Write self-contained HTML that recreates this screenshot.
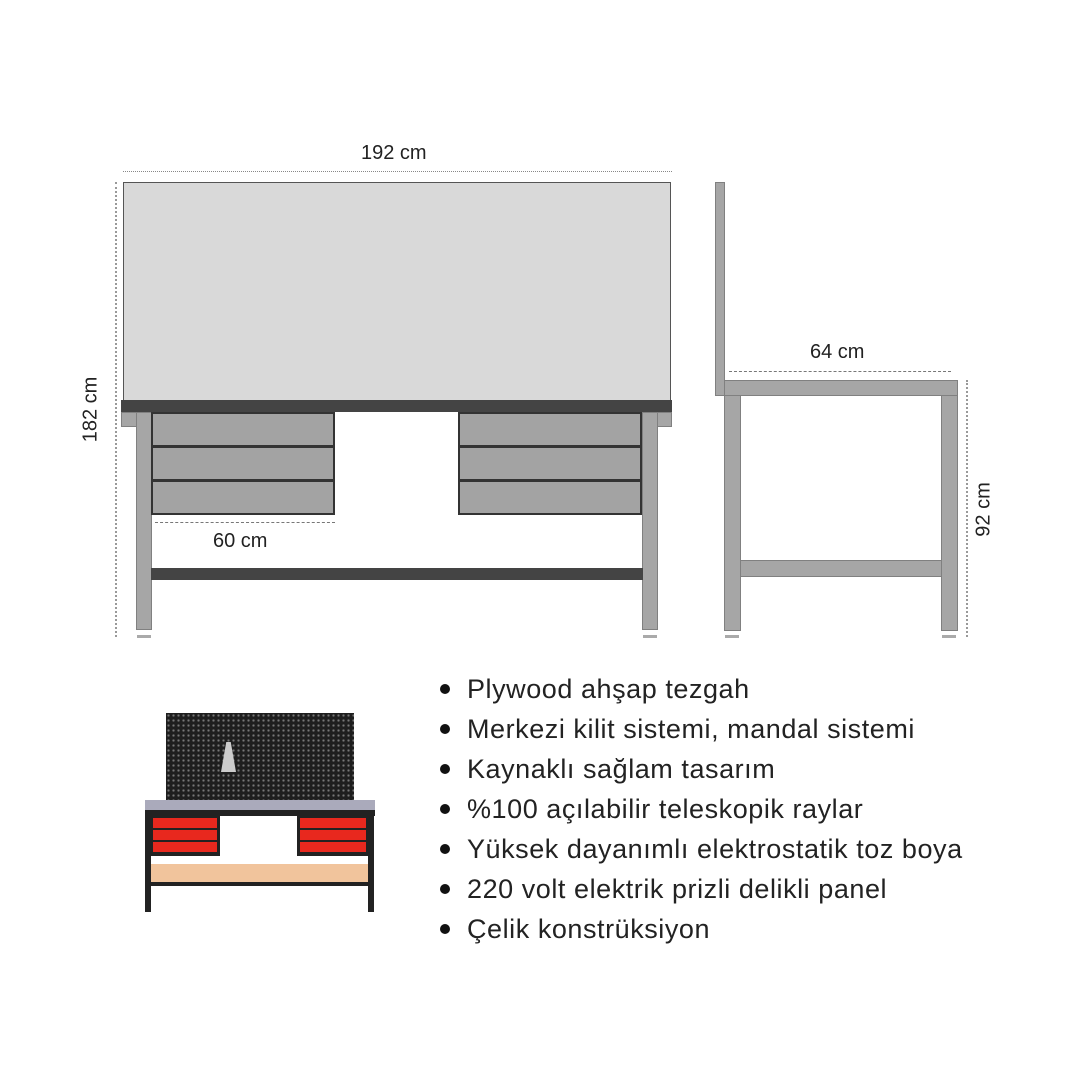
<!DOCTYPE html>
<html><head><style>
body{margin:0;width:1080px;height:1080px;background:#fff;position:relative;overflow:hidden;font-family:"Liberation Sans",sans-serif;}
.a{position:absolute;box-sizing:border-box;}
.g{background:#a6a6a6;border:1px solid #808080;}
.d{background:#444;}
.dr{background:#a3a3a3;border:2px solid #333;}
.t{position:absolute;font-size:20px;color:#222;}
ul{position:absolute;left:440px;top:672px;margin:0;padding:0;list-style:none;}
li{font-size:27px;letter-spacing:0.55px;color:#222;height:40px;line-height:34px;position:relative;padding-left:27px;white-space:nowrap;}
li:before{content:"";position:absolute;left:0;top:12px;width:10px;height:10px;border-radius:50%;background:#111;}
</style></head><body>
<div class="a" style="left:123px;top:171px;width:549px;border-top:1px dotted #888"></div>
<div class="t" style="left:361px;top:142px">192 cm</div>
<div class="a" style="left:115px;top:182px;height:455px;border-left:2px dotted #999"></div>
<div class="t" style="left:58px;top:398px;transform:rotate(-90deg)">182 cm</div>
<div class="a" style="left:123px;top:182px;width:548px;height:219px;background:#d9d9d9;border:1px solid #555"></div>
<div class="a d" style="left:121px;top:400px;width:551px;height:12px"></div>
<div class="a g" style="left:121px;top:412px;width:16px;height:15px"></div>
<div class="a g" style="left:657px;top:412px;width:15px;height:15px"></div>
<div class="a g" style="left:136px;top:412px;width:16px;height:218px"></div>
<div class="a g" style="left:642px;top:412px;width:16px;height:218px"></div>
<div class="a dr" style="left:151px;top:412px;width:184px;height:35px"></div>
<div class="a dr" style="left:151px;top:446px;width:184px;height:35px"></div>
<div class="a dr" style="left:151px;top:480px;width:184px;height:35px"></div>
<div class="a dr" style="left:458px;top:412px;width:184px;height:35px"></div>
<div class="a dr" style="left:458px;top:446px;width:184px;height:35px"></div>
<div class="a dr" style="left:458px;top:480px;width:184px;height:35px"></div>
<div class="a" style="left:155px;top:522px;width:180px;border-top:1px dashed #777"></div>
<div class="t" style="left:213px;top:530px">60 cm</div>
<div class="a d" style="left:151px;top:568px;width:492px;height:12px"></div>
<div class="a" style="left:137px;top:632px;width:14px;height:6px;border-bottom:3px solid #aaa"></div>
<div class="a" style="left:643px;top:632px;width:14px;height:6px;border-bottom:3px solid #aaa"></div>
<div class="a g" style="left:715px;top:182px;width:10px;height:214px"></div>
<div class="a g" style="left:724px;top:380px;width:234px;height:16px"></div>
<div class="a g" style="left:724px;top:395px;width:17px;height:236px"></div>
<div class="a g" style="left:941px;top:395px;width:17px;height:236px"></div>
<div class="a g" style="left:740px;top:560px;width:202px;height:17px"></div>
<div class="a" style="left:729px;top:371px;width:222px;border-top:1px dashed #777"></div>
<div class="t" style="left:810px;top:341px">64 cm</div>
<div class="a" style="left:966px;top:380px;height:257px;border-left:2px dotted #999"></div>
<div class="t" style="left:957px;top:498px;transform:rotate(-90deg)">92 cm</div>
<div class="a" style="left:725px;top:632px;width:14px;height:6px;border-bottom:3px solid #aaa"></div>
<div class="a" style="left:942px;top:632px;width:14px;height:6px;border-bottom:3px solid #aaa"></div>
<div class="a" style="left:166px;top:713px;width:188px;height:88px;background:#1e1e1e;background-image:radial-gradient(#777 1px,transparent 1.3px);background-size:5px 5px"></div>
<div class="a" style="left:221px;top:742px;width:15px;height:30px;background:#ccc;clip-path:polygon(35% 0,65% 0,100% 100%,0 100%)"></div>
<div class="a" style="left:145px;top:800px;width:230px;height:10px;background:#aab"></div>
<div class="a" style="left:145px;top:810px;width:230px;height:6px;background:#222"></div>
<div class="a" style="left:145px;top:810px;width:6px;height:102px;background:#222"></div>
<div class="a" style="left:368px;top:810px;width:6px;height:102px;background:#222"></div>
<div class="a" style="left:150px;top:816px;width:70px;height:40px;background:#222;padding:2px 3px"><div style="height:10px;background:#e8281e;margin-bottom:2px"></div><div style="height:10px;background:#e8281e;margin-bottom:2px"></div><div style="height:10px;background:#e8281e"></div></div>
<div class="a" style="left:297px;top:816px;width:72px;height:40px;background:#222;padding:2px 3px"><div style="height:10px;background:#e8281e;margin-bottom:2px"></div><div style="height:10px;background:#e8281e;margin-bottom:2px"></div><div style="height:10px;background:#e8281e"></div></div>
<div class="a" style="left:151px;top:864px;width:217px;height:18px;background:#f1c49c"></div>
<div class="a" style="left:151px;top:882px;width:217px;height:4px;background:#222"></div>
<ul>
<li>Plywood ahşap tezgah</li>
<li>Merkezi kilit sistemi, mandal sistemi</li>
<li>Kaynaklı sağlam tasarım</li>
<li>%100 açılabilir teleskopik raylar</li>
<li>Yüksek dayanımlı elektrostatik toz boya</li>
<li>220 volt elektrik prizli delikli panel</li>
<li>Çelik konstrüksiyon</li>
</ul>
</body></html>
